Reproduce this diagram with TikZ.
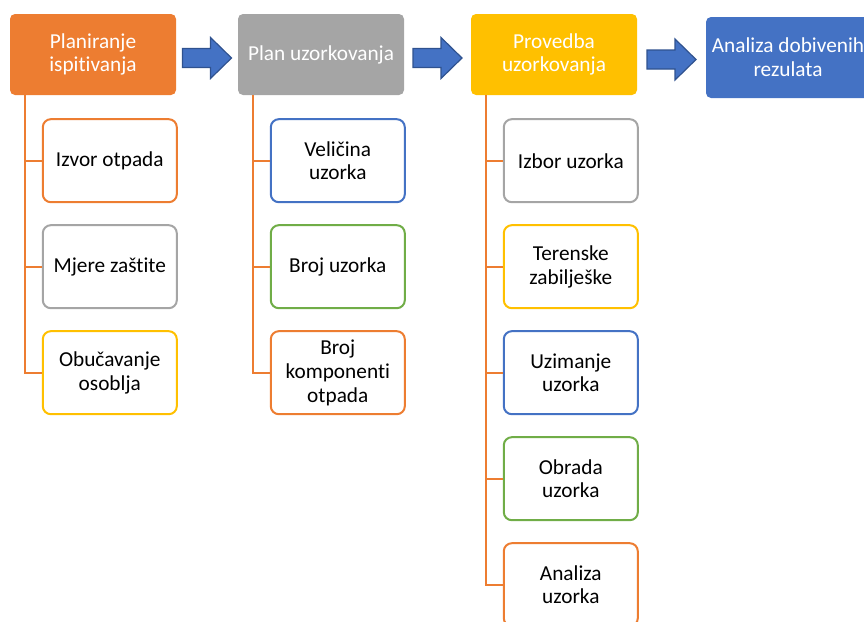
\documentclass[tikz,border=0pt]{standalone}
\usepackage{fontspec}
\setmainfont[Ligatures={NoCommon}]{Carlito}
\usetikzlibrary{calc}
\definecolor{O}{RGB}{237,125,49}
\definecolor{S}{RGB}{165,165,165}
\definecolor{Y}{RGB}{255,192,0}
\definecolor{B}{RGB}{68,114,196}
\definecolor{D}{RGB}{47,82,143}
\definecolor{G}{RGB}{112,173,71}
\tikzset{
  stage/.style={fill=#1, rounded corners=5pt, minimum width=166, minimum height=81, text=white, align=center, inner sep=0pt},
  task/.style={draw=#1, line width=2pt, fill=white, rounded corners=8pt, minimum width=134, minimum height=83, align=center, inner sep=0pt},
  branch/.style={draw=O, line width=2.2pt},
  blockarrow/.style={fill=B, draw=D, line width=1.2pt, line join=miter}
}
\newcommand{\subtask}[5]{
  \node[task=#4] (#1) at ($(#2.south west)+(100,65.5+106*#3)$) {#5};
  \draw[branch] ($(#2.south west)+(15,0)$) |- (#1.west);
}
\newcommand{\stagearrow}[3]{
  \coordinate (#3) at ($($(#1.east)!.5!(#2.west)$)+(0,3.5)$);
  \draw[blockarrow, shift={(#3)}] (-24.5,-9.5)--(3.5,-9.5)--(3.5,-20.5)--(24.5,0)--(3.5,20.5)--(3.5,9.5)--(-24.5,9.5)--cycle;
}

\begin{document}
\begin{tikzpicture}[x=1pt, y=-1pt, font=\fontsize{21.3}{23.7}\selectfont]
\useasboundingbox (0,0) rectangle (864,621);
\clip (0,0) rectangle (864,621);
\node[stage=O] (planiranje) at (93,54.5) {Planiranje\\ispitivanja};
\node[stage=S] (plan) at (321,54.5) {Plan uzorkovanja};
\node[stage=Y] (provedba) at (554,54.5) {Provedba\\uzorkovanja};
\node[stage=B, minimum width=164] (analiza) at (788,57.5) {Analiza dobivenih\\rezulata};
\stagearrow{planiranje}{plan}{a1}
\stagearrow{plan}{provedba}{a2}
\stagearrow{provedba}{analiza}{a3}
\subtask{izvor}{planiranje}{0}{O}{Izvor otpada}
\subtask{mjere}{planiranje}{1}{S}{Mjere zaštite}
\subtask{obuka}{planiranje}{2}{Y}{Obučavanje\\osoblja}
\subtask{velicina}{plan}{0}{B}{Veličina\\uzorka}
\subtask{broj}{plan}{1}{G}{Broj uzorka}
\subtask{komponente}{plan}{2}{O}{Broj\\komponenti\\otpada}
\subtask{izbor}{provedba}{0}{S}{Izbor uzorka}
\subtask{biljeske}{provedba}{1}{Y}{Terenske\\zabilješke}
\subtask{uzimanje}{provedba}{2}{B}{Uzimanje\\uzorka}
\subtask{obrada}{provedba}{3}{G}{Obrada\\uzorka}
\subtask{analizauz}{provedba}{4}{O}{Analiza\\uzorka}
\end{tikzpicture}
\end{document}
